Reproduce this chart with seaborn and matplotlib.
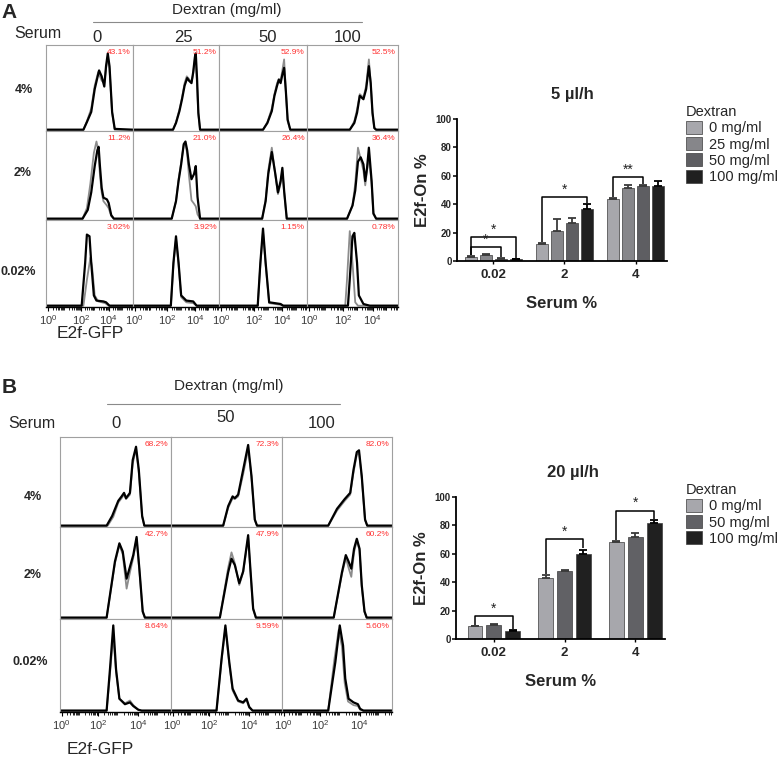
import numpy as np
import pandas as pd
import matplotlib
matplotlib.use("Agg")
import matplotlib.pyplot as plt
from matplotlib.patches import Patch
import seaborn as sns

# ---------------- data ----------------
# Flow histograms: (x fraction of display axis, relative count)
# Panel A, serum 4%
HA_4_0_K = [(0.43,0),(0.47,0.09),(0.52,0.21),(0.56,0.48),(0.61,0.70),(0.64,0.63),(0.67,0.51),(0.69,0.75),(0.71,0.90),(0.73,0.75),(0.76,0.21),(0.79,0.01)]
HA_4_0_G = [(0.43,0),(0.47,0.10),(0.52,0.25),(0.56,0.52),(0.60,0.68),(0.64,0.58),(0.67,0.55),(0.69,0.72),(0.71,0.86),(0.73,0.72),(0.76,0.20),(0.79,0)]
HA_4_25_K = [(0.465,0),(0.50,0.08),(0.54,0.22),(0.57,0.36),(0.60,0.52),(0.63,0.61),(0.65,0.58),(0.68,0.55),(0.70,0.68),(0.72,0.86),(0.73,0.90),(0.745,0.60),(0.76,0.20),(0.78,0)]
HA_4_25_G = [(0.465,0),(0.50,0.09),(0.54,0.24),(0.57,0.38),(0.60,0.55),(0.625,0.63),(0.65,0.60),(0.68,0.56),(0.70,0.66),(0.725,0.88),(0.74,0.62),(0.76,0.18),(0.78,0)]
HA_4_50_K = [(0.50,0),(0.55,0.08),(0.60,0.22),(0.63,0.40),(0.66,0.52),(0.68,0.59),(0.70,0.55),(0.72,0.65),(0.74,0.73),(0.76,0.45),(0.78,0.12),(0.81,0)]
HA_4_50_G = [(0.50,0),(0.55,0.09),(0.60,0.25),(0.63,0.42),(0.66,0.55),(0.68,0.60),(0.70,0.58),(0.72,0.70),(0.74,0.83),(0.76,0.45),(0.78,0.10),(0.81,0)]
HA_4_100_K = [(0.47,0),(0.52,0.08),(0.55,0.20),(0.58,0.40),(0.60,0.38),(0.62,0.36),(0.65,0.48),(0.68,0.75),(0.70,0.55),(0.72,0.20),(0.74,0.02),(0.76,0)]
HA_4_100_G = [(0.47,0),(0.52,0.10),(0.55,0.24),(0.58,0.42),(0.60,0.40),(0.62,0.38),(0.65,0.52),(0.68,0.83),(0.70,0.55),(0.72,0.18),(0.74,0.02),(0.76,0)]
# Panel A, serum 2%
HA_2_0_K = [(0.42,0),(0.48,0.10),(0.52,0.30),(0.56,0.60),(0.59,0.78),(0.605,0.82),(0.62,0.60),(0.64,0.35),(0.66,0.24),(0.70,0.22),(0.72,0.18),(0.75,0.04),(0.78,0)]
HA_2_0_G = [(0.42,0),(0.47,0.12),(0.51,0.40),(0.55,0.75),(0.58,0.88),(0.60,0.78),(0.62,0.50),(0.64,0.30),(0.66,0.20),(0.70,0.15),(0.72,0.12),(0.75,0.03),(0.78,0)]
HA_2_25_K = [(0.45,0),(0.50,0.20),(0.53,0.43),(0.56,0.62),(0.59,0.85),(0.61,0.88),(0.63,0.78),(0.65,0.62),(0.68,0.45),(0.71,0.51),(0.73,0.60),(0.75,0.25),(0.78,0)]
HA_2_25_G = [(0.45,0),(0.50,0.20),(0.53,0.45),(0.56,0.64),(0.59,0.84),(0.61,0.86),(0.63,0.74),(0.65,0.50),(0.68,0.21),(0.71,0.17),(0.73,0.14),(0.75,0.05),(0.78,0)]
HA_2_50_K = [(0.49,0),(0.53,0.20),(0.56,0.51),(0.60,0.76),(0.64,0.51),(0.67,0.30),(0.70,0.43),(0.72,0.58),(0.74,0.32),(0.77,0)]
HA_2_50_G = [(0.49,0),(0.53,0.22),(0.56,0.55),(0.60,0.81),(0.64,0.50),(0.67,0.28),(0.70,0.40),(0.72,0.55),(0.74,0.30),(0.77,0)]
HA_2_100_K = [(0.44,0),(0.50,0.15),(0.53,0.32),(0.56,0.65),(0.59,0.70),(0.62,0.62),(0.64,0.43),(0.66,0.58),(0.68,0.81),(0.71,0.43),(0.73,0.06),(0.76,0)]
HA_2_100_G = [(0.44,0),(0.50,0.15),(0.53,0.40),(0.56,0.81),(0.59,0.68),(0.62,0.55),(0.64,0.38),(0.66,0.55),(0.68,0.72),(0.71,0.40),(0.73,0.05),(0.76,0)]
# Panel A, serum 0.02%
HA_0_0_K = [(0.41,0),(0.45,0.50),(0.47,0.83),(0.50,0.81),(0.52,0.50),(0.55,0.12),(0.58,0.06),(0.66,0.05),(0.69,0.04),(0.73,0)]
HA_0_0_G = [(0.43,0),(0.47,0.30),(0.51,0.56),(0.53,0.45),(0.56,0.12),(0.60,0.05),(0.68,0.03),(0.72,0)]
HA_0_25_K = [(0.44,0),(0.47,0.50),(0.50,0.81),(0.53,0.50),(0.56,0.12),(0.62,0.06),(0.70,0.05),(0.74,0)]
HA_0_25_G = [(0.44,0),(0.47,0.48),(0.50,0.78),(0.53,0.48),(0.56,0.10),(0.62,0.04),(0.70,0.03),(0.74,0)]
HA_0_50_K = [(0.44,0),(0.47,0.50),(0.50,0.90),(0.53,0.50),(0.57,0.04),(0.70,0.02),(0.73,0)]
HA_0_50_G = [(0.44,0),(0.47,0.48),(0.50,0.86),(0.53,0.48),(0.57,0.03),(0.70,0.01),(0.73,0)]
HA_0_100_K = [(0.45,0),(0.47,0.31),(0.50,0.81),(0.52,0.85),(0.55,0.50),(0.57,0.12),(0.62,0.02),(0.69,0)]
HA_0_100_G = [(0.42,0),(0.44,0.31),(0.47,0.87),(0.50,0.50),(0.53,0.04),(0.56,0)]
# Panel B, serum 4%
HB_4_0_K = [(0.42,0),(0.47,0.11),(0.525,0.28),(0.555,0.33),(0.577,0.37),(0.595,0.31),(0.63,0.37),(0.655,0.74),(0.685,0.89),(0.71,0.63),(0.74,0.11),(0.76,0)]
HB_4_0_G = [(0.43,0),(0.48,0.10),(0.525,0.26),(0.555,0.31),(0.577,0.35),(0.595,0.30),(0.63,0.35),(0.655,0.70),(0.685,0.86),(0.71,0.60),(0.74,0.10),(0.76,0)]
HB_4_50_K = [(0.47,0),(0.515,0.22),(0.555,0.33),(0.575,0.31),(0.605,0.35),(0.65,0.63),(0.695,0.91),(0.725,0.56),(0.755,0.07),(0.775,0)]
HB_4_50_G = [(0.47,0),(0.515,0.20),(0.555,0.31),(0.575,0.30),(0.605,0.33),(0.65,0.58),(0.695,0.86),(0.725,0.55),(0.755,0.06),(0.775,0)]
HB_4_100_K = [(0.42,0),(0.50,0.19),(0.57,0.30),(0.62,0.37),(0.65,0.63),(0.68,0.83),(0.70,0.85),(0.725,0.56),(0.755,0.07),(0.775,0)]
HB_4_100_G = [(0.42,0),(0.50,0.17),(0.57,0.28),(0.62,0.35),(0.65,0.60),(0.68,0.80),(0.70,0.82),(0.725,0.54),(0.755,0.06),(0.775,0)]
# Panel B, serum 2%
HB_2_0_K = [(0.42,0),(0.495,0.62),(0.535,0.82),(0.565,0.73),(0.60,0.43),(0.63,0.56),(0.66,0.69),(0.69,0.89),(0.715,0.54),(0.745,0.07),(0.765,0)]
HB_2_0_G = [(0.42,0),(0.495,0.60),(0.535,0.80),(0.565,0.70),(0.60,0.32),(0.63,0.50),(0.66,0.66),(0.69,0.87),(0.715,0.52),(0.745,0.06),(0.765,0)]
HB_2_50_K = [(0.44,0),(0.515,0.50),(0.545,0.65),(0.575,0.58),(0.615,0.38),(0.65,0.51),(0.695,0.91),(0.715,0.54),(0.74,0.10),(0.765,0)]
HB_2_50_G = [(0.44,0),(0.515,0.55),(0.545,0.72),(0.575,0.60),(0.615,0.36),(0.65,0.50),(0.695,0.88),(0.715,0.52),(0.74,0.09),(0.765,0)]
HB_2_100_K = [(0.47,0),(0.545,0.50),(0.58,0.69),(0.605,0.62),(0.63,0.54),(0.655,0.76),(0.68,0.87),(0.705,0.76),(0.725,0.36),(0.75,0.07),(0.77,0)]
HB_2_100_G = [(0.47,0),(0.545,0.48),(0.58,0.66),(0.605,0.55),(0.63,0.45),(0.655,0.72),(0.68,0.85),(0.705,0.74),(0.725,0.34),(0.75,0.06),(0.77,0)]
# Panel B, serum 0.02%
HB_0_0_K = [(0.42,0),(0.45,0.45),(0.48,0.93),(0.505,0.45),(0.535,0.13),(0.585,0.07),(0.63,0.09),(0.66,0.05),(0.705,0.01),(0.735,0)]
HB_0_0_G = [(0.42,0),(0.45,0.40),(0.48,0.82),(0.505,0.42),(0.535,0.13),(0.585,0.08),(0.63,0.11),(0.66,0.06),(0.705,0.01),(0.735,0)]
HB_0_50_K = [(0.41,0),(0.455,0.56),(0.49,0.93),(0.525,0.53),(0.555,0.24),(0.605,0.11),(0.65,0.09),(0.68,0.13),(0.705,0.04),(0.735,0)]
HB_0_50_G = [(0.41,0),(0.455,0.54),(0.49,0.90),(0.525,0.51),(0.555,0.22),(0.605,0.10),(0.65,0.08),(0.68,0.12),(0.705,0.03),(0.735,0)]
HB_0_100_K = [(0.42,0),(0.485,0.53),(0.525,0.93),(0.555,0.71),(0.575,0.35),(0.605,0.13),(0.65,0.09),(0.69,0.07),(0.71,0.02),(0.74,0)]
HB_0_100_G = [(0.42,0),(0.475,0.55),(0.515,0.88),(0.545,0.70),(0.57,0.30),(0.60,0.10),(0.65,0.06),(0.69,0.05),(0.71,0.01),(0.74,0)]

# percentage of E2f-On cells shown on each histogram
PCT_A_4 = ["43.1%", "51.2%", "52.9%", "52.5%"]
PCT_A_2 = ["11.2%", "21.0%", "26.4%", "36.4%"]
PCT_A_0 = ["3.02%", "3.92%", "1.15%", "0.78%"]
PCT_B_4 = ["68.2%", "72.3%", "82.0%"]
PCT_B_2 = ["42.7%", "47.9%", "60.2%"]
PCT_B_0 = ["8.64%", "9.59%", "5.60%"]

SERUM_ROWS = ["4%", "2%", "0.02%"]
DEX_A_COLS = ["0", "25", "50", "100"]
DEX_B_COLS = ["0", "50", "100"]
HIST_TICKS = ["$10^0$", "$10^2$", "$10^4$"]

# Bar charts
SERUM_CATS = ["0.02", "2", "4"]
DEX_A = ["0 mg/ml", "25 mg/ml", "50 mg/ml", "100 mg/ml"]
A_MEAN_0 = [3.0, 11.8, 43.5]
A_MEAN_25 = [4.3, 21.2, 51.5]
A_MEAN_50 = [1.6, 26.6, 53.0]
A_MEAN_100 = [1.2, 36.5, 52.5]
A_SD_0 = [0.5, 1.0, 0.6]
A_SD_25 = [0.5, 8.2, 2.0]
A_SD_50 = [0.5, 3.5, 0.6]
A_SD_100 = [0.4, 3.5, 4.0]
DEX_B = ["0 mg/ml", "50 mg/ml", "100 mg/ml"]
B_MEAN_0 = [9.0, 43.0, 68.5]
B_MEAN_50 = [10.0, 48.0, 72.0]
B_MEAN_100 = [5.5, 60.0, 82.0]
B_SD_0 = [0.4, 2.0, 0.5]
B_SD_50 = [0.4, 0.5, 3.0]
B_SD_100 = [1.0, 3.0, 2.0]
# significance brackets: (serum index, bar i, bar j, height, label)
SIG_A = [(0, 0, 2, 9.8, "*"), (0, 0, 3, 17.0, "*"), (1, 0, 3, 45.0, "*"), (2, 0, 2, 59.0, "**")]
SIG_B = [(0, 0, 2, 16.0, "*"), (1, 0, 2, 70.4, "*"), (2, 0, 2, 90.4, "*")]

COL_A = ["#a7a7ac", "#86868a", "#5e5e62", "#202020"]
COL_B = ["#a7a7ac", "#616165", "#202020"]

# ---------------- style ----------------
sns.set_theme(style="white")
plt.rcParams["font.family"] = ["Liberation Sans", "DejaVu Sans"]
plt.rcParams["mathtext.fontset"] = "custom"
plt.rcParams["mathtext.rm"] = "Liberation Sans"
plt.rcParams["mathtext.it"] = "Liberation Sans"

W, H = 782, 758
fig = plt.figure(figsize=(W / 100, H / 100), dpi=100)
fig.patch.set_facecolor("white")


def add_ax(l, t, r, b):
    return fig.add_axes([l / W, 1 - b / H, (r - l) / W, (b - t) / H])


def ftext(x, y, s, **kw):
    fig.text(x / W, 1 - y / H, s, **kw)


def draw_hist(ax, black, gray, pct, bottom, tickpos):
    for pts, col, lw in ((gray, "#8c8c8c", 1.3), (black, "black", 1.6)):
        xs = [0.0] + [p[0] for p in pts] + [1.0]
        ys = [0.0] + [p[1] for p in pts] + [0.0]
        sns.lineplot(x=xs, y=ys, ax=ax, color=col, lw=lw, sort=False,
                     estimator=None)
    ax.set_xlim(0, 1)
    ax.set_ylim(-0.015, 1.0)
    ax.set_yticks([])
    ax.set_xlabel("")
    ax.set_ylabel("")
    for s in ax.spines.values():
        s.set_color("#a0a0a0")
        s.set_linewidth(0.8)
    ax.text(0.975, 0.955, pct, transform=ax.transAxes, ha="right", va="top",
            color="#ff3030", fontsize=6)
    if bottom:
        ax.spines["bottom"].set_color("black")
        ax.spines["bottom"].set_linewidth(1.0)
        maj = np.interp([0, 2, 4], [0, 2, 4, 6], tickpos)
        ax.set_xticks(maj)
        ax.set_xticklabels(HIST_TICKS, fontsize=8, color="#3a3a3a")
        minlog = [np.log10(k) + d for d in range(0, 6) for k in range(2, 10)]
        mn = np.interp(minlog, [0, 2, 4, 6], tickpos)
        ax.set_xticks([m for m in mn if m < 0.995], minor=True)
        ax.tick_params(axis="x", which="major", direction="out", length=3,
                       width=0.8, color="black", pad=1.5, bottom=True)
        ax.tick_params(axis="x", which="minor", direction="out", length=1.8,
                       width=0.6, color="black", bottom=True)
    else:
        ax.set_xticks([])


# ---------------- Panel A histograms ----------------
A_COLX = [46, 133, 219, 307, 398]
A_ROWY = [45, 131, 220, 307]
HA = [[(HA_4_0_K, HA_4_0_G), (HA_4_25_K, HA_4_25_G), (HA_4_50_K, HA_4_50_G), (HA_4_100_K, HA_4_100_G)],
      [(HA_2_0_K, HA_2_0_G), (HA_2_25_K, HA_2_25_G), (HA_2_50_K, HA_2_50_G), (HA_2_100_K, HA_2_100_G)],
      [(HA_0_0_K, HA_0_0_G), (HA_0_25_K, HA_0_25_G), (HA_0_50_K, HA_0_50_G), (HA_0_100_K, HA_0_100_G)]]
PA = [PCT_A_4, PCT_A_2, PCT_A_0]
for r in range(3):
    for c in range(4):
        ax = add_ax(A_COLX[c], A_ROWY[r], A_COLX[c + 1], A_ROWY[r + 1])
        k, g = HA[r][c]
        draw_hist(ax, k, g, PA[r][c], r == 2, [0.02, 0.40, 0.72, 1.04])

ftext(9, 13, "A", fontsize=15, fontweight="bold", ha="center", va="center")
ftext(227, 10, "Dextran (mg/ml)", fontsize=11, ha="center", va="center")
fig.add_artist(plt.Line2D([93 / W, 362 / W], [1 - 21.5 / H, 1 - 21.5 / H],
                          color="#8a8a8a", lw=0.8))
ftext(38, 33, "Serum", fontsize=11.5, ha="center", va="center")
for lab, x in zip(DEX_A_COLS, [97, 183, 268, 348]):
    ftext(x, 37.5, lab, fontsize=12, ha="center", va="center")
for lab, x, y in zip(SERUM_ROWS, [24, 23, 18], [90, 173, 272]):
    ftext(x, y, lab, fontsize=9, fontweight="bold", ha="center", va="center")
ftext(90, 334, "E2f-GFP", fontsize=12.5, ha="center", va="center")

# ---------------- Panel B histograms ----------------
B_COLX = [60, 171, 282, 392]
B_ROWY = [437, 527, 619, 712]
HB = [[(HB_4_0_K, HB_4_0_G), (HB_4_50_K, HB_4_50_G), (HB_4_100_K, HB_4_100_G)],
      [(HB_2_0_K, HB_2_0_G), (HB_2_50_K, HB_2_50_G), (HB_2_100_K, HB_2_100_G)],
      [(HB_0_0_K, HB_0_0_G), (HB_0_50_K, HB_0_50_G), (HB_0_100_K, HB_0_100_G)]]
PB = [PCT_B_4, PCT_B_2, PCT_B_0]
for r in range(3):
    for c in range(3):
        ax = add_ax(B_COLX[c], B_ROWY[r], B_COLX[c + 1], B_ROWY[r + 1])
        k, g = HB[r][c]
        draw_hist(ax, k, g, PB[r][c], r == 2, [0.015, 0.345, 0.705, 1.065])

ftext(9, 387.5, "B", fontsize=15, fontweight="bold", ha="center", va="center")
ftext(229, 386.5, "Dextran (mg/ml)", fontsize=11, ha="center", va="center")
fig.add_artist(plt.Line2D([107 / W, 340 / W], [1 - 404 / H, 1 - 404 / H],
                          color="#8a8a8a", lw=0.8))
ftext(32, 424, "Serum", fontsize=11.5, ha="center", va="center")
for lab, x, y in zip(DEX_B_COLS, [116, 226, 322], [424, 417.5, 424]):
    ftext(x, y, lab, fontsize=12, ha="center", va="center")
for lab, x, y in zip(SERUM_ROWS, [33, 33, 30], [497, 575, 662]):
    ftext(x, y, lab, fontsize=9, fontweight="bold", ha="center", va="center")
ftext(100, 750, "E2f-GFP", fontsize=12.5, ha="center", va="center")


# ---------------- bar charts ----------------
def bar_chart(box, dex, means, sds, cols, width, gap, xlim, title, title_xy,
              sig, leg_xy):
    ax = add_ax(*box)
    rows = []
    for d, m in zip(dex, means):
        for s, v in zip(SERUM_CATS, m):
            rows.append({"serum": s, "dextran": d, "value": v})
    df = pd.DataFrame(rows)
    sns.barplot(data=df, x="serum", y="value", hue="dextran", order=SERUM_CATS,
                hue_order=dex, palette=cols, errorbar=None, width=width,
                gap=gap, ax=ax, legend=False, edgecolor="#3c3c3c",
                linewidth=0.5, saturation=1)
    for cont, sd, col in zip(ax.containers, sds, cols):
        xs = [p.get_x() + p.get_width() / 2 for p in cont.patches]
        ys = [p.get_height() for p in cont.patches]
        ec = "#3a3a3a" if col != cols[-1] else "black"
        ax.errorbar(xs, ys, yerr=[np.zeros(len(sd)), sd], fmt="none",
                    ecolor=ec, elinewidth=1.3, capsize=3.2, capthick=1.3,
                    zorder=1)
    for gi, i, j, h, lab in sig:
        pi = ax.containers[i].patches[gi]
        pj = ax.containers[j].patches[gi]
        xi = pi.get_x() + pi.get_width() / 2
        xj = pj.get_x() + pj.get_width() / 2
        yi = pi.get_height() + sds[i][gi] + 0.8
        yj = pj.get_height() + sds[j][gi] + 0.8
        ax.plot([xi, xi, xj, xj], [yi, h, h, yj], color="black", lw=1.1,
                solid_capstyle="butt", clip_on=False)
        ax.text((xi + xj) / 2, h + 0.3, lab, ha="center", va="bottom",
                fontsize=10, color="#222222")
    ax.set_xlim(*xlim)
    ax.set_ylim(0, 100)
    ax.set_yticks([0, 20, 40, 60, 80, 100])
    ax.set_yticklabels(["0", "20", "40", "60", "80", "100"], fontsize=7,
                       fontweight="bold")
    ax.set_xticks([0, 1, 2])
    ax.set_xticklabels(SERUM_CATS, fontsize=9.5, fontweight="bold")
    ax.tick_params(axis="y", direction="out", length=3, width=1.1, pad=0.8,
                   left=True, color="black")
    ax.tick_params(axis="x", direction="out", length=2.5, width=1.0, pad=3,
                   bottom=True, color="black")
    sns.despine(ax=ax)
    for s in ("left", "bottom"):
        ax.spines[s].set_color("black")
        ax.spines[s].set_linewidth(1.3)
    ax.set_xlabel("Serum %", fontsize=12, fontweight="bold", labelpad=11)
    ax.set_ylabel("E2f-On %", fontsize=12, fontweight="bold", labelpad=4)
    ftext(title_xy[0], title_xy[1], title, fontsize=12, fontweight="bold",
          ha="center", va="center")
    handles = [Patch(facecolor=c, edgecolor="#3c3c3c", linewidth=0.5)
               for c in cols]
    ax.legend(handles, dex, title="Dextran", loc="upper left",
              bbox_to_anchor=(leg_xy[0] / W, 1 - leg_xy[1] / H),
              bbox_transform=fig.transFigure, frameon=False,
              fontsize=10.5, title_fontsize=10.5, handlelength=1.1,
              handleheight=1.0, handletextpad=0.5, labelspacing=0.12,
              borderpad=0, borderaxespad=0, alignment="left")
    return ax


bar_chart((457, 119, 667, 261), DEX_A,
          [A_MEAN_0, A_MEAN_25, A_MEAN_50, A_MEAN_100],
          [A_SD_0, A_SD_25, A_SD_50, A_SD_100], COL_A, 0.84, 0.2,
          (-0.51, 2.44), "5 \u00b5l/h", (572, 95), SIG_A, (686, 105))

bar_chart((456, 497, 665, 639), DEX_B,
          [B_MEAN_0, B_MEAN_50, B_MEAN_100],
          [B_SD_0, B_SD_50, B_SD_100], COL_B, 0.80, 0.21,
          (-0.535, 2.42), "20 \u00b5l/h", (573, 472), SIG_B, (686, 483))

fig.savefig("out.png", dpi=100, facecolor="white")
